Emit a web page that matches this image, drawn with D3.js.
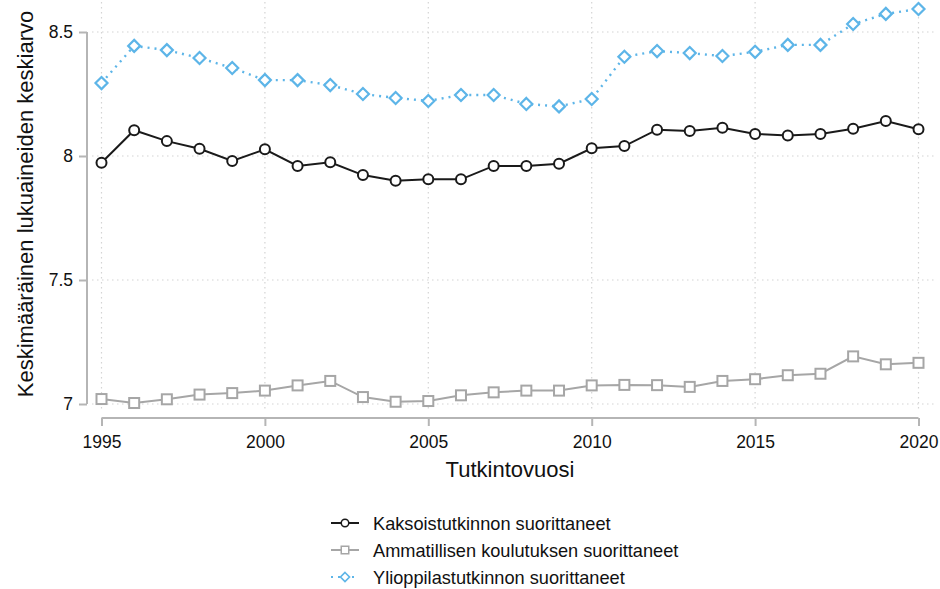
<!DOCTYPE html>
<html>
<head>
<meta charset="utf-8">
<script src="https://cdn.jsdelivr.net/npm/d3@7"></script>
<style>
body { margin: 0; background: #fff; }
svg { font-family: "Liberation Sans", Arial, sans-serif; }
</style>
</head>
<body>
<svg width="940" height="589"></svg>
<script>
var years = d3.range(1995, 2021);

// Kaksoistutkinnon suorittaneet
var kaksois = [7.973, 8.104, 8.060, 8.029, 7.980, 8.027, 7.960, 7.975, 7.923, 7.900, 7.906, 7.906, 7.960,
	7.960, 7.969, 8.031, 8.040, 8.106, 8.101, 8.114, 8.089, 8.083, 8.089, 8.110, 8.141, 8.108];
// Ammatillisen koulutuksen suorittaneet
var ammatti = [7.020, 7.004, 7.019, 7.038, 7.044, 7.054, 7.075, 7.093, 7.028, 7.009, 7.012, 7.035, 7.047,
	7.054, 7.054, 7.075, 7.077, 7.076, 7.069, 7.093, 7.100, 7.116, 7.122, 7.192, 7.160, 7.166];
// Ylioppilastutkinnon suorittaneet
var yo = [8.294, 8.444, 8.427, 8.395, 8.355, 8.306, 8.306, 8.286, 8.250, 8.234, 8.222, 8.246, 8.246,
	8.210, 8.200, 8.230, 8.400, 8.423, 8.415, 8.403, 8.420, 8.448, 8.448, 8.532, 8.573, 8.593];

var xTicks = [1995, 2000, 2005, 2010, 2015, 2020];
var yTicks = [7, 7.5, 8, 8.5];

var series = [
	{name: "Kaksoistutkinnon suorittaneet", values: kaksois, color: "#1a1a1a", marker: "circle", dash: null},
	{name: "Ammatillisen koulutuksen suorittaneet", values: ammatti, color: "#a6a6a6", marker: "square", dash: null},
	{name: "Ylioppilastutkinnon suorittaneet", values: yo, color: "#5db5e8", marker: "diamond", dash: "2,5"}
];

var svg = d3.select("svg");

var x = d3.scaleLinear().domain([1995, 2020]).range([101.5, 918.5]);
var y = d3.scaleLinear().domain([7, 8.5]).range([404, 32]);

// grid
var grid = svg.append("g");
grid.selectAll(".gx").data(xTicks).enter().append("line")
	.attr("x1", d => x(d)).attr("x2", d => x(d))
	.attr("y1", 2).attr("y2", 412)
	.attr("stroke", "#d4d4d4").attr("stroke-width", 1.2).attr("stroke-dasharray", "1.5,3.5");
grid.selectAll(".gy").data(yTicks).enter().append("line")
	.attr("x1", 92).attr("x2", 934)
	.attr("y1", d => y(d)).attr("y2", d => y(d))
	.attr("stroke", "#d4d4d4").attr("stroke-width", 1.2).attr("stroke-dasharray", "1.5,3.5");

// axes
var yAxis = svg.append("g")
	.attr("transform", "translate(87,0)")
	.call(d3.axisLeft(y).tickValues(yTicks).tickSize(8).tickPadding(6)
		.tickFormat(d => d3.format("")(d)));
var xAxis = svg.append("g")
	.attr("transform", "translate(0,418)")
	.call(d3.axisBottom(x).tickValues(xTicks).tickSize(8).tickPadding(10).tickFormat(d3.format("d")));

[yAxis, xAxis].forEach(function (a) {
	a.selectAll(".tick line").attr("stroke", "#b5b5b5").attr("stroke-width", 2);
	a.selectAll(".tick text").attr("fill", "#111").attr("font-size", 17.5);
});
// plain axis lines without end caps
yAxis.select(".domain").attr("stroke", "#b5b5b5").attr("stroke-width", 2)
	.attr("d", "M0," + y(8.5) + "V" + y(7));
xAxis.select(".domain").attr("stroke", "#b5b5b5").attr("stroke-width", 2)
	.attr("d", "M" + x(1995) + ",0H" + x(2020));

// titles
svg.append("text")
	.attr("transform", "translate(33,204) rotate(-90)")
	.attr("text-anchor", "middle")
	.attr("font-size", 22).attr("fill", "#111")
	.text("Keskimääräinen lukuaineiden keskiarvo");
svg.append("text")
	.attr("x", 510).attr("y", 477)
	.attr("text-anchor", "middle")
	.attr("font-size", 22).attr("fill", "#111")
	.text("Tutkintovuosi");

function drawMarker(g, type, color) {
	if (type === "circle") {
		g.append("circle").attr("r", 5).attr("fill", "#fff").attr("stroke", color).attr("stroke-width", 2);
	} else if (type === "square") {
		g.append("rect").attr("x", -5).attr("y", -5).attr("width", 10).attr("height", 10)
			.attr("fill", "#fff").attr("stroke", color).attr("stroke-width", 2);
	} else {
		g.append("path").attr("d", "M0,-6L6,0L0,6L-6,0Z")
			.attr("fill", "#fff").attr("stroke", color).attr("stroke-width", 2.2);
	}
}

var line = d3.line().x((d, i) => x(years[i])).y(d => y(d));

series.forEach(function (s) {
	svg.append("path")
		.attr("d", line(s.values))
		.attr("fill", "none")
		.attr("stroke", s.color)
		.attr("stroke-width", s.dash ? 2.4 : 2)
		.attr("stroke-dasharray", s.dash);
	svg.append("g").selectAll("g").data(s.values).enter().append("g")
		.attr("transform", (d, i) => "translate(" + x(years[i]) + "," + y(d) + ")")
		.each(function () { drawMarker(d3.select(this), s.marker, s.color); });
});

// legend
var legend = svg.append("g");
series.forEach(function (s, i) {
	var ly = 523 + i * 27;
	var g = legend.append("g").attr("transform", "translate(0," + ly + ")");
	g.append("line").attr("x1", 331).attr("x2", 359).attr("y1", 0).attr("y2", 0)
		.attr("stroke", s.color).attr("stroke-width", 2).attr("stroke-dasharray", s.dash);
	var m = g.append("g").attr("transform", "translate(345,0) scale(0.75)");
	drawMarker(m, s.marker, s.color);
	g.append("text").attr("x", 373).attr("y", 6.5)
		.attr("font-size", 18.2).attr("fill", "#111")
		.text(s.name);
});
</script>
</body>
</html>
